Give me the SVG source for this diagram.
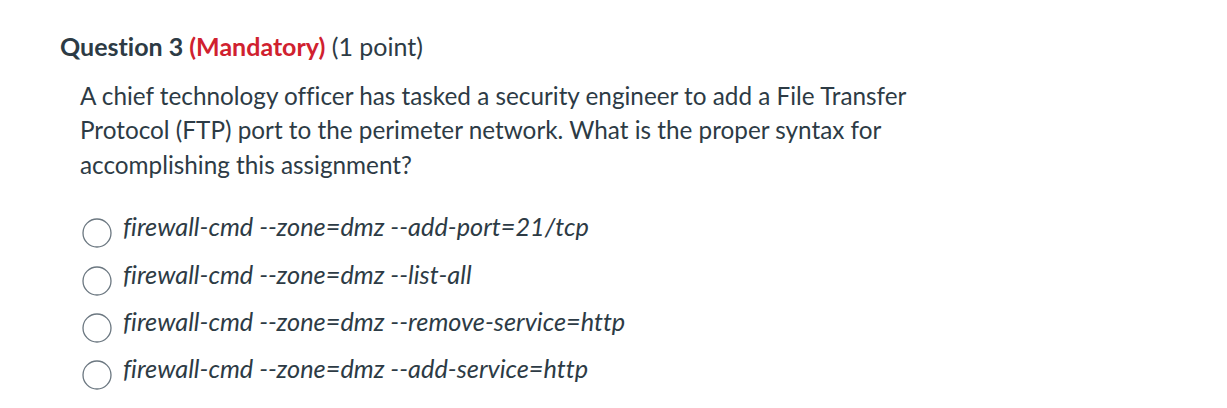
<svg xmlns="http://www.w3.org/2000/svg" width="1227" height="408" viewBox="0 0 1227 408">
<style>
text{font-family:Lato,"Open Sans",sans-serif;fill:#2d3b45;font-variant-ligatures:none}
.b{font-size:24.3px}
.o{font-size:25.3px;font-style:italic}
circle{fill:#fff;stroke:#6b7780;stroke-width:1.3}
</style>
<rect width="1227" height="408" fill="#fff"/>
<g id="title"><text x="60" y="56" font-size="25"><tspan font-weight="bold">Question 3 </tspan><tspan font-weight="bold" fill="#d0212f" style="fill:#d0212f">(Mandatory)</tspan><tspan> (1 point)</tspan></text></g>
<g id="question">
<text class="b" x="80" y="105">A chief technology officer has tasked a security engineer to add a File Transfer</text>
<text class="b" x="80" y="139">Protocol (FTP) port to the perimeter network. What is the proper syntax for</text>
<text class="b" x="80" y="174">accomplishing this assignment?</text>
</g>
<g id="opt1"><circle cx="97" cy="233" r="14"/><text class="o" x="123" y="236">firewall-cmd --zone=dmz --add-port=21/tcp</text></g>
<g id="opt2"><circle cx="97" cy="281" r="14"/><text class="o" x="123" y="284">firewall-cmd --zone=dmz --list-all</text></g>
<g id="opt3"><circle cx="97" cy="328" r="14"/><text class="o" x="123" y="331">firewall-cmd --zone=dmz --remove-service=http</text></g>
<g id="opt4"><circle cx="97" cy="375" r="14"/><text class="o" x="123" y="378">firewall-cmd --zone=dmz --add-service=http</text></g>
</svg>
